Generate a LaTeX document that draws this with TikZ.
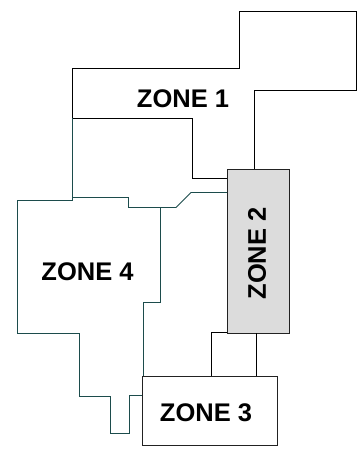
\documentclass[tikz,border=0pt]{standalone}
\usepackage{fontspec}
\setmainfont{Liberation Sans}
\definecolor{tealline}{HTML}{1C4C4C}
\definecolor{zonefill}{HTML}{DCDCDC}
\definecolor{zoneedge}{HTML}{222222}
\tikzset{
  x=1pt,y=-1pt,
  plan/.style={draw=black,line width=0.9pt,line join=miter},
  tealplan/.style={draw=tealline,line width=0.9pt,line join=miter},
  zonelabel/.style={font=\bfseries\fontsize{25.5}{25.5}\selectfont,inner sep=0pt,text=black},
  zonebox/.style={draw=zoneedge,line width=1pt,inner sep=0pt,anchor=north west,minimum width=#1},
}
\begin{document}
\begin{tikzpicture}
\useasboundingbox (0,0) rectangle (360,450);
\node[zonebox=62pt,fill=zonefill,minimum height=164pt] (z2) at (227,169) {};
\node[zonebox=134.5pt,fill=white,minimum height=69pt] (z3) at (142,376) {};
\node[zonelabel] (t1) at (183,98.5) {ZONE 1};
\node[zonelabel,rotate=90] (t2) at (257,253.5) {ZONE 2};
\node[zonelabel] (t3) at (206,412.5) {ZONE 3};
\node[zonelabel] (t4) at (87.5,271.5) {ZONE 4};
\coordinate (a) at (z2.north west|-0,178.5);
\coordinate (b) at (z2.north west|-0,192.5);
\coordinate (c) at (254.5,169);
\coordinate (d) at (142,395.5);
\coordinate (e) at (143.5,376);
\coordinate (f) at (211.5,376);
\coordinate (g) at (256.5,376);
\coordinate (h) at (227,332);
\coordinate (k) at (256.5,333);
% zone 1 outline
\draw[plan] (72.5,118) -- (72.5,68.5) -- (239,68.5) -- (239,11) -- (356.5,11) -- (356.5,90) -- (254.5,90) -- (c);
\draw[plan] (72.5,118) -- (192,118) -- (192,178.5) -- (a);
% zone 4 outline
\draw[tealplan] (72.5,118) -- (72.5,197.5) -- (128.5,197.5) -- (128.5,207.5) -- (176,207.5) -- (191,192.5) -- (b);
\draw[tealplan] (72.5,197.5) -- (72.5,200) -- (17.5,200) -- (17.5,333) -- (79.5,333) -- (79.5,396) -- (110.5,396) -- (110.5,433) -- (129.5,433) -- (129.5,395.5) -- (d);
\draw[tealplan] (160,207.5) -- (160,302) -- (143.5,302) -- (e);
% zone 2 to zone 3
\draw[plan] (h) -- (211.5,332) -- (f);
\draw[plan] (k) -- (g);
\end{tikzpicture}
\end{document}
